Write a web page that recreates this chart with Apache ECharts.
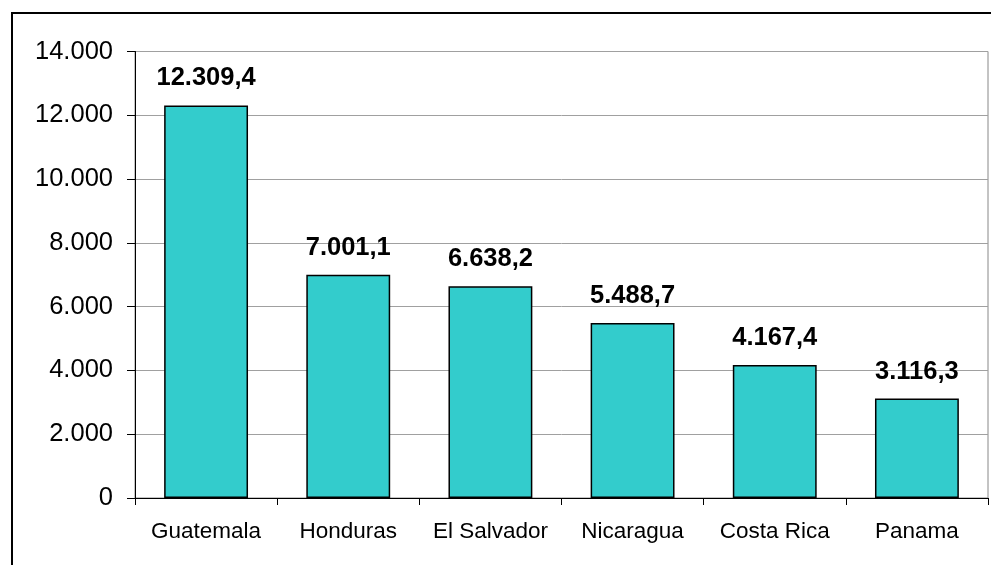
<!DOCTYPE html>
<html><head><meta charset="utf-8">
<script src="https://cdn.jsdelivr.net/npm/echarts@6/dist/echarts.min.js"></script>
<style>html,body{margin:0;padding:0;background:#fff}#c{width:991px;height:565px}</style>
</head><body><div id="c"></div>
<script>
const categories = ['Guatemala','Honduras','El Salvador','Nicaragua','Costa Rica','Panama'];
const values = [12309.4, 7001.1, 6638.2, 5488.7, 4167.4, 3116.3];
const yTicks = [0, 2000, 4000, 6000, 8000, 10000, 12000, 14000];

function fmtInt(v){ return String(Math.round(v)).replace(/\B(?=(\d{3})+(?!\d))/g,'.'); }
function fmtDec(v){ const p = v.toFixed(1).split('.'); return p[0].replace(/\B(?=(\d{3})+(?!\d))/g,'.') + ',' + p[1]; }

const chart = echarts.init(document.getElementById('c'));
chart.setOption({
  animation:false,
  backgroundColor:'#fff',
  textStyle:{fontFamily:'Liberation Sans, Arial, sans-serif'},
  graphic:[{type:'rect',shape:{x:12,y:13,width:1100,height:700},style:{fill:'none',stroke:'#000',lineWidth:2},silent:true,z:100}],
  grid:{left:135,right:3,top:51.5,bottom:67,show:true,borderColor:'#888',borderWidth:1,backgroundColor:'transparent'},
  xAxis:{type:'category',data:categories,
    axisLine:{lineStyle:{color:'#000',width:1}},
    axisTick:{show:true,length:7,alignWithLabel:false,lineStyle:{color:'#000'}},
    axisLabel:{color:'#000',fontSize:22.5,margin:22,interval:0,hideOverlap:false}},
  yAxis:{type:'value',min:yTicks[0],max:yTicks[yTicks.length-1],interval:2000,
    axisLine:{show:true,lineStyle:{color:'#000',width:1}},
    axisTick:{show:true,length:8,lineStyle:{color:'#000'}},
    splitLine:{lineStyle:{color:'#a0a0a0',width:1}},
    axisLabel:{color:'#000',fontSize:25.5,margin:22,formatter:v=>fmtInt(v)}},
  series:[{type:'bar',data:values,barCategoryGap:'41%',
    itemStyle:{color:'#33CCCC',borderColor:'#000',borderWidth:1.5},
    label:{show:true,position:'top',distance:14,color:'#000',fontWeight:'bold',fontSize:25.5,formatter:p=>fmtDec(p.value)}}]
});
</script></body></html>
